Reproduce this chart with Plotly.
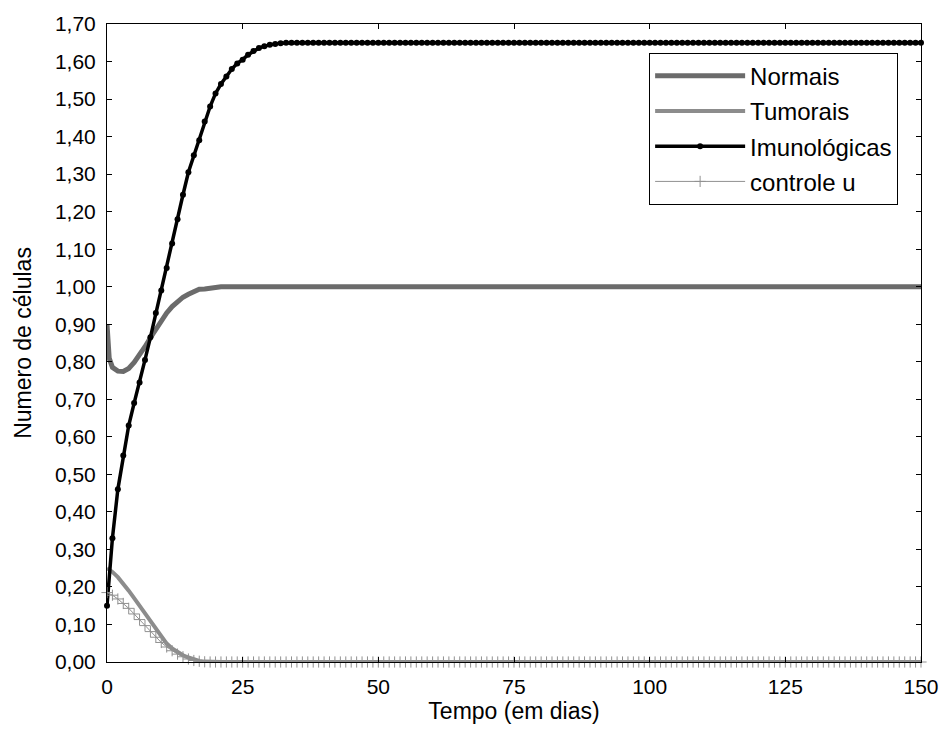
import plotly.graph_objects as go

# ---- data ----
days = list(range(0, 151))

normais_t = [0, 0.4] + list(range(1, 151))
normais = [0.90, 0.81, 0.785, 0.775, 0.774, 0.782, 0.798, 0.818, 0.84, 0.864, 0.888,
           0.91, 0.93, 0.947, 0.961, 0.972, 0.98, 0.988, 0.993, 0.994, 0.996,
           1.0] + [1.0] * 130

tumorais = [0.25, 0.24, 0.226, 0.21, 0.19, 0.17, 0.15, 0.13, 0.11, 0.087, 0.066,
            0.049, 0.036, 0.026, 0.018, 0.012, 0.007, 0.003, 0.001, 0.0] + [0.0] * 131

imunologicas = [0.15, 0.33, 0.46, 0.55, 0.63, 0.69, 0.745, 0.805, 0.865, 0.93, 0.99,
                1.05, 1.115, 1.18, 1.245, 1.305, 1.35, 1.39, 1.44, 1.48, 1.515,
                1.54, 1.56, 1.58, 1.595, 1.605, 1.618, 1.628, 1.636, 1.641, 1.645,
                1.647, 1.649, 1.65] + [1.65] * 117

controle_u = [0.185, 0.178, 0.168, 0.156, 0.143, 0.128, 0.113, 0.097, 0.081, 0.066,
              0.052, 0.04, 0.03, 0.021, 0.014, 0.008, 0.004, 0.002, 0.0005, 0.0] + [0.0] * 131

x_ticks = [0, 25, 50, 75, 100, 125, 150]
y_ticks = [0.0, 0.1, 0.2, 0.3, 0.4, 0.5, 0.6, 0.7, 0.8, 0.9, 1.0,
           1.1, 1.2, 1.3, 1.4, 1.5, 1.6, 1.7]

FONT = "Liberation Sans, Arial, sans-serif"

fig = go.Figure()
fig.add_trace(go.Scatter(x=normais_t, y=normais, name="Normais", mode="lines",
                         line=dict(color="#6b6b6b", width=5), cliponaxis=False,
                         legendgroup="a"))
fig.add_trace(go.Scatter(x=days, y=tumorais, name="Tumorais", mode="lines",
                         line=dict(color="#8c8c8c", width=4), cliponaxis=False,
                         legendgroup="b"))
fig.add_trace(go.Scatter(x=days, y=imunologicas, name="Imunológicas", mode="lines+markers",
                         line=dict(color="black", width=3.5),
                         marker=dict(symbol="circle", size=6, color="black"),
                         cliponaxis=False, legendgroup="c"))
fig.add_trace(go.Scatter(x=days, y=controle_u, name="controle u", mode="lines+markers",
                         line=dict(color="#909090", width=1),
                         marker=dict(symbol="cross-thin-open", size=8,
                                     line=dict(color="#888888", width=1)),
                         cliponaxis=False, legendgroup="d"))

axis_common = dict(showline=True, linecolor="black", linewidth=1, mirror="ticks",
                   ticks="inside", ticklen=5, tickcolor="black", showgrid=False,
                   zeroline=False, tickfont=dict(family=FONT, size=21, color="black"))

fig.update_layout(
    width=951, height=736,
    margin=dict(l=107, r=24, t=18, b=74),
    paper_bgcolor="white", plot_bgcolor="white",
    separators=", ",
    font=dict(family=FONT, color="black"),
    xaxis=dict(range=[0, 150], tickvals=x_ticks, ticklabelstandoff=6,
               title=dict(text="Tempo (em dias)", font=dict(family=FONT, size=23), standoff=4),
               **axis_common),
    yaxis=dict(range=[0, 1.7], tickvals=y_ticks, tickformat=".2f", ticklabelstandoff=6,
               title=dict(text="Numero de células", font=dict(family=FONT, size=23), standoff=16),
               **axis_common),
    legend=dict(x=0.666, y=0.955, xanchor="left", yanchor="top",
                bgcolor="white", bordercolor="black", borderwidth=1,
                font=dict(family=FONT, size=24, color="black"),
                tracegroupgap=1, itemwidth=90),
)

fig.write_html("out.html")
